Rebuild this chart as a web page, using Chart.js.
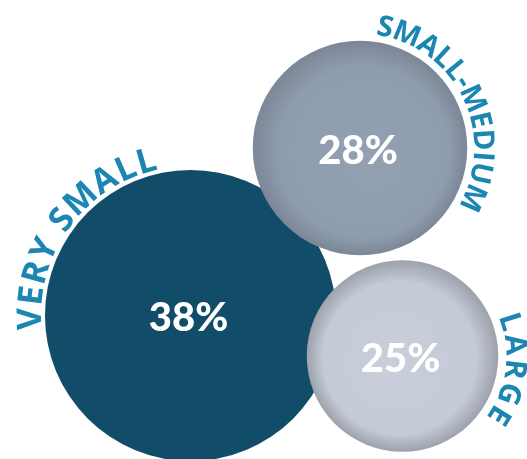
<!DOCTYPE html>
<html>
<head>
<meta charset="utf-8">
<script src="https://cdn.jsdelivr.net/npm/chart.js@4"></script>
<style>
  html, body { margin: 0; padding: 0; background: #fff; }
  #wrap { width: 527px; height: 459px; }
</style>
</head>
<body>
<div id="wrap"><canvas id="myChart"></canvas></div>
<script>
// share of each company size, in percent
var sizes = ["VERY SMALL", "SMALL-MEDIUM", "LARGE"];
var shares = [38, 28, 25];
// where each bubble sits on the hidden x / y axes
var bubbleX = [190.5, 360, 402.5];
var bubbleY = [315.5, 148, 356];

var pxPerPoint = 3.83; // bubble radius per percentage point

// centre, body and rim colour of each bubble
var fills = [
  ["#114d68", "#114d68", "#114d68"],
  ["#93a0b1", "#8f9cad", "#7b8797"],
  ["#c8ceda", "#c4cad6", "#9ca1ab"]
];
var shadeShift = [[0, 0], [0.18, 0.18], [-0.15, 0.12]];

// curved captions: angle (deg) of first / last letter, gap outside the bubble, font size
var captionArcs = [
  { from: 178.8, to: 254, gap: 4, size: 34 },
  { from: -78.2, to: 23.7, gap: 7, size: 29 },
  { from: -17.6, to: 31.5, gap: 8, size: 30 }
];

function bubbleFill(c) {
  var i = c.dataIndex;
  var chart = c.chart;
  if (!chart.chartArea || !chart.scales.x) return fills[i][1];
  var x = chart.scales.x.getPixelForValue(bubbleX[i]);
  var y = chart.scales.y.getPixelForValue(bubbleY[i]);
  var r = shares[i] * pxPerPoint;
  var g = chart.ctx.createRadialGradient(x + shadeShift[i][0] * r, y + shadeShift[i][1] * r, 0, x, y, r);
  g.addColorStop(0, fills[i][0]);
  g.addColorStop(0.8, fills[i][1]);
  g.addColorStop(1, fills[i][2]);
  return g;
}

function drawArcText(ctx, text, cx, cy, R, a0, a1, size) {
  ctx.font = "700 " + size + "px 'Open Sans'";
  var chars = text.split("");
  var widths = chars.map(function (ch) { return ctx.measureText(ch).width; });
  var n = chars.length;
  var Rm = R + size * 0.36;
  var inner = widths.reduce(function (s, w) { return s + w; }, 0) - widths[0] / 2 - widths[n - 1] / 2;
  var arc = (a1 - a0) * Math.PI / 180 * Rm;
  var spacing = (arc - inner) / (n - 1);
  var pos = 0;
  ctx.textAlign = "center";
  ctx.textBaseline = "alphabetic";
  for (var i = 0; i < n; i++) {
    var a = a0 * Math.PI / 180 + pos / Rm;
    ctx.save();
    ctx.translate(cx + R * Math.cos(a), cy + R * Math.sin(a));
    ctx.rotate(a + Math.PI / 2);
    ctx.fillText(chars[i], 0, 0);
    ctx.restore();
    if (i < n - 1) pos += widths[i] / 2 + spacing + widths[i + 1] / 2;
  }
}

var bubbleLabels = {
  id: "bubbleLabels",
  afterDatasetsDraw: function (chart) {
    var ctx = chart.ctx;
    var meta = chart.getDatasetMeta(0);
    ctx.save();
    meta.data.forEach(function (el, i) {
      var r = el.options.radius;
      ctx.fillStyle = "#1b86b2";
      var arcOpt = captionArcs[i];
      drawArcText(ctx, sizes[i], el.x, el.y, r + arcOpt.gap, arcOpt.from, arcOpt.to, arcOpt.size);

      ctx.fillStyle = "#ffffff";
      ctx.font = "900 40px Lato";
      ctx.textAlign = "center";
      ctx.textBaseline = "middle";
      ctx.fillText(shares[i] + "%", el.x - 2, el.y + 3);
    });
    ctx.restore();
  }
};

new Chart("myChart", {
  type: "bubble",
  data: {
    labels: sizes,
    datasets: [{
      data: shares.map(function (v, i) {
        return { x: bubbleX[i], y: bubbleY[i], r: v * pxPerPoint };
      }),
      backgroundColor: bubbleFill,
      borderWidth: 0,
      hoverRadius: 0,
      clip: false
    }]
  },
  options: {
    responsive: true,
    maintainAspectRatio: false,
    animation: false,
    events: [],
    layout: { padding: 0, autoPadding: false },
    plugins: {
      legend: { display: false },
      tooltip: { enabled: false }
    },
    scales: {
      x: { type: "linear", min: 0, max: 527, display: false },
      y: { type: "linear", min: 0, max: 459, reverse: true, display: false }
    }
  },
  plugins: [bubbleLabels]
});
</script>
</body>
</html>
